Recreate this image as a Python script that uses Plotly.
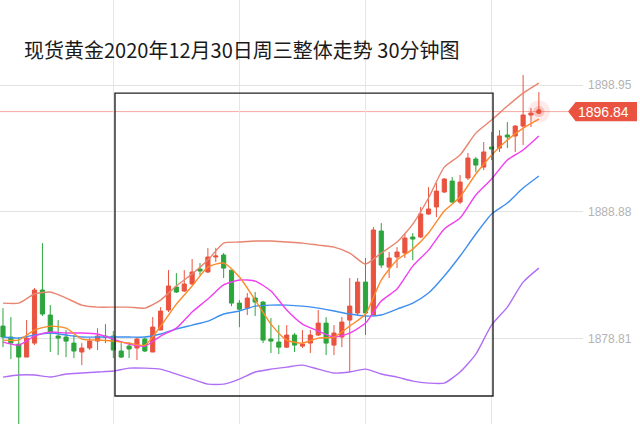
import plotly.graph_objects as go

# ---- data ----
idx = list(range(69))
opens = [1879.79,1878.92,1878.36,1877.33,1878.44,1882.66,1880.67,1879.00,1878.92,1878.44,
         1877.73,1878.05,1878.60,1879.00,1879.00,1877.81,1878.20,1878.05,1878.76,1877.73,
         1879.48,1881.07,1882.90,1882.58,1883.14,1884.32,1884.09,1885.28,1885.44,1884.24,
         1881.62,1881.22,1882.02,1881.70,1878.76,1878.52,1878.12,1879.08,1878.20,1878.44,
         1879.08,1880.03,1878.28,1878.92,1880.27,1880.83,1883.29,1880.67,1887.35,1884.48,
         1885.28,1885.60,1886.87,1886.87,1888.70,1889.26,1890.45,1891.32,1889.65,1891.56,
         1893.07,1892.43,1894.02,1893.94,1894.98,1894.90,1895.69,1896.57,1896.76]
highs = [1881.22,1880.51,1878.92,1880.27,1882.82,1886.39,1881.46,1880.27,1879.48,1879.08,
         1878.44,1878.84,1879.63,1879.95,1879.40,1878.44,1878.52,1878.92,1878.92,1880.51,
         1881.30,1884.24,1884.01,1884.24,1885.12,1884.80,1885.99,1885.99,1885.60,1884.24,
         1881.86,1882.42,1882.50,1881.78,1880.43,1879.87,1879.87,1879.24,1879.48,1879.48,
         1881.07,1880.51,1879.87,1880.51,1883.61,1883.61,1885.20,1887.67,1887.98,1885.68,
         1886.07,1887.19,1887.19,1889.26,1890.84,1891.16,1891.56,1891.64,1891.80,1893.55,
         1893.23,1894.42,1895.21,1895.37,1896.01,1895.77,1899.75,1897.12,1898.39]
lows = [1878.12,1877.17,1871.68,1877.33,1878.28,1880.59,1877.73,1877.49,1877.33,1877.25,
        1876.69,1877.89,1877.89,1878.44,1877.25,1877.25,1877.25,1877.09,1877.73,1877.73,
        1879.48,1880.91,1882.42,1882.50,1883.06,1883.85,1884.01,1884.88,1883.61,1881.38,
        1879.71,1880.67,1880.59,1878.44,1877.65,1877.57,1878.05,1877.73,1878.05,1877.65,
        1879.00,1877.49,1877.49,1878.12,1876.14,1880.67,1879.08,1880.67,1884.40,1883.61,
        1884.40,1885.20,1885.04,1886.79,1888.62,1888.46,1890.37,1889.57,1889.49,1891.40,
        1892.03,1892.19,1892.99,1893.63,1893.94,1893.63,1894.18,1895.61,1896.65]
closes = [1878.92,1878.44,1877.33,1878.84,1882.66,1880.75,1879.24,1878.84,1878.60,1877.81,
          1878.05,1878.60,1879.00,1878.92,1877.89,1877.33,1877.97,1878.76,1877.81,1879.71,
          1880.99,1882.98,1882.50,1883.14,1884.09,1884.17,1885.28,1885.36,1884.40,1881.62,
          1881.14,1882.02,1881.70,1878.68,1878.60,1878.12,1879.08,1878.28,1878.36,1879.08,
          1880.03,1878.44,1879.24,1880.11,1881.38,1883.29,1880.83,1887.43,1884.64,1885.20,
          1885.68,1886.79,1886.71,1888.70,1889.10,1890.52,1891.48,1889.65,1891.24,1893.15,
          1892.59,1893.63,1893.86,1894.90,1894.82,1895.69,1896.57,1896.72,1896.84]

line_idx = list(range(0, 69, 2))
boll_upper = [1881.62,1881.62,1882.34,1882.50,1882.02,1881.46,1881.30,1881.30,1881.30,1881.22,
              1881.86,1882.98,1883.93,1885.04,1886.39,1886.47,1886.55,1886.55,1886.47,1886.39,
              1886.23,1886.07,1885.60,1884.72,1885.60,1886.47,1887.90,1889.97,1892.43,1893.39,
              1895.13,1896.17,1897.28,1898.31,1899.11]
boll_lower = [1875.74,1875.90,1875.90,1875.74,1875.98,1876.06,1876.14,1876.22,1876.45,1876.45,
              1876.37,1875.98,1875.58,1875.18,1875.18,1875.58,1876.14,1876.37,1876.53,1876.69,
              1876.37,1876.06,1876.14,1876.37,1875.98,1875.74,1875.42,1875.26,1875.26,1876.14,
              1877.57,1879.87,1881.30,1883.29,1884.40]
boll_mid = [1878.92,1878.84,1879.08,1879.24,1879.08,1878.92,1878.92,1878.92,1878.92,1878.92,
            1879.16,1879.56,1879.87,1880.19,1880.75,1880.99,1881.38,1881.46,1881.46,1881.38,
            1881.22,1880.99,1880.75,1880.59,1880.67,1881.14,1881.62,1882.42,1883.77,1885.36,
            1887.11,1888.70,1889.57,1890.76,1891.72]
ma5 = [1878.68,1878.68,1879.48,1879.79,1879.63,1878.76,1878.68,1878.60,1878.44,1878.28,
       1879.79,1881.54,1882.98,1884.48,1884.80,1883.69,1881.86,1879.95,1878.68,1878.44,
       1878.84,1878.92,1879.79,1880.75,1883.45,1885.04,1885.91,1887.19,1888.94,1890.05,
       1891.88,1893.39,1894.58,1895.53,1896.25]
ma10 = [1878.52,1878.28,1879.00,1879.32,1879.24,1879.24,1879.16,1878.76,1878.36,1878.20,
        1879.00,1879.63,1880.91,1881.94,1883.06,1883.45,1883.37,1882.58,1881.07,1879.95,
        1879.40,1878.92,1879.24,1880.03,1881.78,1882.74,1884.56,1885.83,1887.51,1888.38,
        1890.21,1891.48,1892.99,1893.79,1894.90]

axis_ticks = [1878.81, 1888.88, 1898.95]
axis_labels = ["1878.81", "1888.88", "1898.95"]
grid_x = [14, 30, 46, 62]
last_price = 1896.84
last_label = "1896.84"
box_x = [14.21, 62.18]
box_y = [1874.23, 1898.31]
title_text = "现货黄金2020年12月30日周三整体走势 30分钟图"

RED = "#e9533f"
GREEN = "#2ca53c"

fig = go.Figure()

fig.add_trace(go.Candlestick(
    x=idx, open=opens, high=highs, low=lows, close=closes,
    increasing=dict(line=dict(color=RED, width=1), fillcolor=RED),
    decreasing=dict(line=dict(color=GREEN, width=1), fillcolor=GREEN),
    whiskerwidth=0, hoverinfo="skip", showlegend=False,
))

line_specs = [
    (boll_upper, "#e8846f"),
    (boll_lower, "#b06ef6"),
    (boll_mid, "#3f8ff0"),
    (ma10, "#f13ff0"),
    (ma5, "#ff8a2a"),
]
for vals, col in line_specs:
    fig.add_trace(go.Scatter(
        x=line_idx, y=vals, mode="lines",
        line=dict(color=col, width=1.4, shape="spline", smoothing=0.6),
        hoverinfo="skip", showlegend=False,
    ))

# glow at last price
fig.add_trace(go.Scatter(x=[idx[-1]], y=[last_price], mode="markers",
                         marker=dict(size=22, color="rgba(240,80,70,0.12)", line=dict(width=0)),
                         hoverinfo="skip", showlegend=False))
fig.add_trace(go.Scatter(x=[idx[-1]], y=[last_price], mode="markers",
                         marker=dict(size=11, color="rgba(240,80,70,0.25)", line=dict(width=0)),
                         hoverinfo="skip", showlegend=False))
fig.add_trace(go.Scatter(x=[idx[-1]], y=[last_price], mode="markers",
                         marker=dict(size=5, color=RED, line=dict(width=0)),
                         hoverinfo="skip", showlegend=False))

shapes = [
    dict(type="rect", xref="x", yref="y", x0=box_x[0], x1=box_x[1], y0=box_y[0], y1=box_y[1],
         line=dict(color="#222222", width=1.4), fillcolor="rgba(0,0,0,0)", layer="above"),
    dict(type="line", xref="paper", yref="y", x0=0, x1=0.975, y0=last_price, y1=last_price,
         line=dict(color="#f5aaa2", width=1), layer="below"),
    dict(type="path", xref="paper", yref="y",
         path=f"M 0.9743,{last_price} L 0.9874,{last_price+0.76} L 1.0926,{last_price+0.76} "
              f"L 1.0926,{last_price-0.76} L 0.9874,{last_price-0.76} Z",
         fillcolor=RED, line=dict(width=0), layer="above"),
]

annotations = [
    dict(text=last_label, xref="paper", yref="y", x=1.035, y=last_price,
         showarrow=False, font=dict(family="Liberation Sans, Arial", size=14, color="white"),
         xanchor="center", yanchor="middle"),
    dict(text=title_text, xref="paper", yref="paper", x=22/583, y=1-49/424,
         showarrow=False, font=dict(family="Noto Sans CJK SC", size=20, color="#1a1a1a"),
         xanchor="left", yanchor="middle"),
]

fig.update_layout(
    width=640, height=424,
    margin=dict(l=0, r=57, t=0, b=0),
    paper_bgcolor="white", plot_bgcolor="white",
    showlegend=False, hovermode=False,
    boxgap=0.25,
    shapes=shapes, annotations=annotations,
    xaxis=dict(range=[-0.38, 73.6], tickvals=grid_x, showticklabels=False, ticks="",
               showgrid=True, gridcolor="#e6e6e6", gridwidth=1, zeroline=False,
               rangeslider=dict(visible=False), showline=False, fixedrange=True),
    yaxis=dict(range=[1872.01, 1905.71], side="right", tickvals=axis_ticks, ticktext=axis_labels,
               ticks="", showgrid=True, gridcolor="#e2e2e2", gridwidth=1, zeroline=False,
               tickfont=dict(family="Liberation Sans, Arial", size=12, color="#b3b3b3"),
               ticklabelstandoff=4, showline=False, fixedrange=True),
)

fig.write_html(
    "out.html",
    config={"displayModeBar": False, "staticPlot": True},
    post_script="document.body.style.margin='0px';document.body.style.padding='0px';"
                "document.body.style.overflow='hidden';",
)
